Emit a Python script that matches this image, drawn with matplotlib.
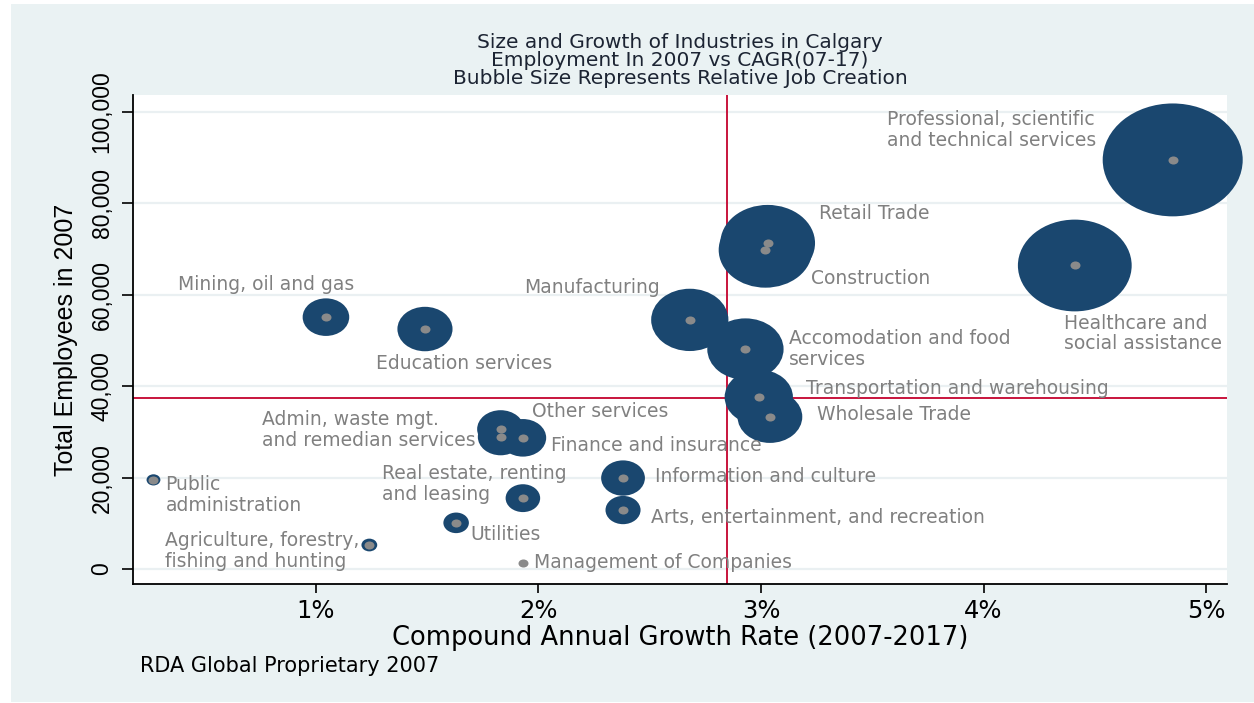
import matplotlib
matplotlib.use("Agg")
import matplotlib.pyplot as plt
from matplotlib.path import Path
from matplotlib.transforms import Affine2D
from matplotlib.patches import Rectangle
from matplotlib.font_manager import FontProperties, findfont
import numpy as np

# ---------------- data ----------------
industries = [
    "Professional, scientific\nand technical services",
    "Healthcare and\nsocial assistance",
    "Retail Trade",
    "Construction",
    "Manufacturing",
    "Accomodation and food\nservices",
    "Transportation and warehousing",
    "Wholesale Trade",
    "Mining, oil and gas",
    "Education services",
    "Admin, waste mgt.\nand remedian services",
    "Other services",
    "Finance and insurance",
    "Real estate, renting\nand leasing",
    "Information and culture",
    "Arts, entertainment, and recreation",
    "Public\nadministration",
    "Utilities",
    "Agriculture, forestry,\nfishing and hunting",
    "Management of Companies",
]
cagr_pct = [4.85, 4.41, 3.03, 3.02, 2.68, 2.93, 2.99, 3.04, 1.045, 1.49,
            1.83, 1.83, 1.93, 1.93, 2.38, 2.38, 0.27, 1.63, 1.24, 1.93]
employees_2007 = [89500, 66400, 71300, 69800, 54500, 48100, 37600, 33300, 55100, 52500,
                  28900, 30600, 28700, 15500, 19900, 12900, 19500, 10100, 5250, 1300]
job_creation_k = [54.2, 35.8, 24.8, 24.2, 16.5, 16.1, 12.9, 11.6, 6.0, 8.4,
                  5.75, 6.1, 6.0, 3.3, 5.3, 3.4, 0.53, 1.8, 0.69, 0.1]

x_ticks = [1, 2, 3, 4, 5]
x_tick_labels = ["1%", "2%", "3%", "4%", "5%"]
y_ticks = [0, 20000, 40000, 60000, 80000, 100000]
y_tick_labels = ["0", "20,000", "40,000", "60,000", "80,000", "100,000"]

cagr_reference = 2.845
employment_reference = 37400

title_lines = ["Size and Growth of Industries in Calgary",
               "Employment In 2007 vs CAGR(07-17)",
               "Bubble Size Represents Relative Job Creation"]
x_title = "Compound Annual Growth Rate (2007-2017)"
y_title = "Total Employees in 2007"
caption = "RDA Global Proprietary 2007"

# ---------------- label layout (pixel offsets, alignment) ----------------
label_layout = [
    (-76, 30, "right"), (-11, -68, "left"), (51, 30, "left"), (46, -29, "left"),
    (-30, 32, "right"), (44, 0, "left"), (47, 9, "left"), (47, 2, "left"),
    (28, 33, "right"), (-49, -34, "left"), (-25, 7, "right"), (31, 18, "left"),
    (28, -8, "left"), (-141, 14, "left"), (32, 2, "left"), (28, -7, "left"),
    (12, -15, "left"), (14, -12, "left"), (-10, -6, "right"), (11, 1, "left"),
]

# ---------------- styling ----------------
W, H = 1254, 703
navy = "#1A476F"
dot_grey = "#8A8A8A"
label_grey = "#808080"
red = "#C8143C"
panel = "#EAF2F3"
title_color = "#1C2433"

plt.rcParams["font.family"] = ["DejaVu Sans"]


def has_font(name):
    try:
        findfont(FontProperties(family=name), fallback_to_default=False)
        return True
    except Exception:
        return False


narrow = has_font("Liberation Sans Narrow")
rot_family = "Liberation Sans Narrow" if narrow else "Liberation Sans"
ytick_size = 18 if narrow else 16.5
ytitle_size = 21.3 if narrow else 18

fig = plt.figure(figsize=(W / 100, H / 100), dpi=100)
fig.patch.set_facecolor("white")
fig.patches.append(Rectangle((11 / W, 1 / H), 1 - 11 / W, 698 / H,
                             transform=fig.transFigure, facecolor=panel,
                             edgecolor="none", zorder=-10))

ax = fig.add_axes([133 / W, (H - 584) / H, (1227 - 133) / W, (584 - 95) / H])
ax.set_facecolor("white")
ax.set_xlim(0.178, 5.094)
ax.set_ylim(-3280, 103700)

# grid
ax.set_yticks(y_ticks, y_tick_labels)
ax.set_xticks(x_ticks, x_tick_labels)
ax.yaxis.grid(True, color="#EAF0F2", lw=1.6, zorder=0.5)
ax.set_axisbelow(True)

# reference lines
ax.axvline(cagr_reference, color=red, lw=1.4, zorder=2)
ax.axhline(employment_reference, color=red, lw=1.4, zorder=2)

# bubbles (elliptical markers as in the reference)
ell = Affine2D().scale(1.24, 1.0).transform_path(Path.unit_circle())
jc = np.array(job_creation_k)
sizes = jc / jc.max() * (140 * 0.72) ** 2
ax.scatter(cagr_pct, employees_2007, s=sizes, marker=ell, color=navy,
           linewidths=0, zorder=3, clip_on=False)
ax.scatter(cagr_pct, employees_2007, s=(10 * 0.72) ** 2, marker=ell, color=dot_grey,
           linewidths=0, zorder=4, clip_on=False)

for name, x, y, (dx, dy, ha) in zip(industries, cagr_pct, employees_2007, label_layout):
    ax.annotate(name, xy=(x, y), xytext=(dx, dy), textcoords="offset pixels",
                ha=ha, va="center", multialignment="left", fontsize=13.5,
                color=label_grey, linespacing=1.1, zorder=5,
                family="DejaVu Sans")

# spines & ticks
for s in ("top", "right"):
    ax.spines[s].set_visible(False)
for s in ("left", "bottom"):
    ax.spines[s].set_color("black")
    ax.spines[s].set_linewidth(1.3)

ax.tick_params(axis="x", length=6.5, width=1.2, pad=4, labelsize=17.5, colors="black")
ax.tick_params(axis="y", length=8, width=1.2, pad=6, colors="black")
for lbl in ax.get_yticklabels():
    lbl.set_rotation(90)
    lbl.set_va("center")
    lbl.set_family(rot_family)
    lbl.set_fontsize(ytick_size)

# titles
for i, line in enumerate(title_lines):
    fig.text(680 / W, 1 - (43 + 18 * i) / H, line, ha="center", va="center",
             fontsize=14.5, color=title_color)

fig.text(66 / W, 1 - 339.5 / H, y_title, rotation=90, ha="center", va="center",
         fontsize=ytitle_size, family=rot_family, color="black")
fig.text(680 / W, 1 - 638 / H, x_title, ha="center", va="center",
         fontsize=18.5, color="black")
fig.text(140 / W, 1 - 666 / H, caption, ha="left", va="center",
         fontsize=15, color="black")

fig.savefig("out.png", dpi=100, facecolor="white")
